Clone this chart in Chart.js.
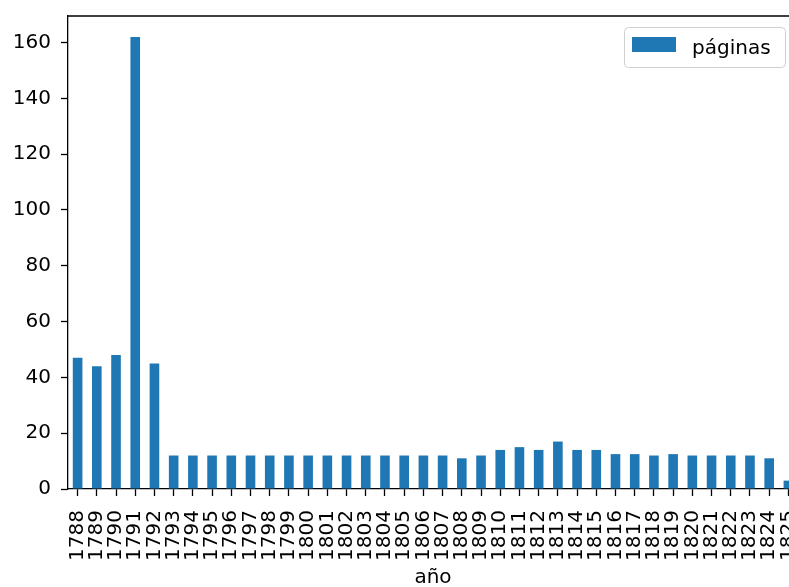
<!DOCTYPE html>
<html>
<head>
<meta charset="utf-8">
<script src="https://cdn.jsdelivr.net/npm/chart.js@4/dist/chart.umd.min.js"></script>
<style>
    html, body { margin: 0; padding: 0; background: #ffffff; overflow: hidden; }
    #chart-container { position: absolute; left: 0; top: 0; width: 810px; height: 600px; }
</style>
</head>
<body>
<div id="chart-container"><canvas id="chart-paginas" width="810" height="600"></canvas></div>
<script>
// -------------------------------------------------------------------------------------------
const years = [
    '1788', '1789', '1790', '1791', '1792', '1793', '1794', '1795', '1796', '1797',
    '1798', '1799', '1800', '1801', '1802', '1803', '1804', '1805', '1806', '1807',
    '1808', '1809', '1810', '1811', '1812', '1813', '1814', '1815', '1816', '1817',
    '1818', '1819', '1820', '1821', '1822', '1823', '1824', '1825'
];
const paginas = [
    47, 44, 48, 162, 45, 12, 12, 12, 12, 12,
    12, 12, 12, 12, 12, 12, 12, 12, 12, 12,
    11, 12, 14, 15, 14, 17, 14, 14, 12.5, 12.5,
    12, 12.5, 12, 12, 12, 12, 11, 3
];
const yTicks = [0, 20, 40, 60, 80, 100, 120, 140, 160];
const yMax = 169.5;
const seriesLabel = 'páginas';
const xTitle = 'año';
const barColor = '#1f77b4';
const fontFamily = '"DejaVu Sans", sans-serif';
// -------------------------------------------------------------------------------------------
const framePlugin = {
    id: 'frame',
    afterDraw(chart) {
        const ctx = chart.ctx;
        const area = chart.chartArea;

        // top spine
        ctx.save();
        ctx.strokeStyle = '#000000';
        ctx.lineWidth = 1.3;
        ctx.beginPath();
        ctx.moveTo(area.left, area.top);
        ctx.lineTo(area.right, area.top);
        ctx.moveTo(area.right, area.top);
        ctx.lineTo(area.right, area.bottom);
        ctx.stroke();

        // legend box, upper right inside the axes
        const boxW = 161, boxH = 40;
        const boxX = area.right - 13 - boxW;
        const boxY = area.top + 11;
        ctx.beginPath();
        ctx.roundRect(boxX + 0.5, boxY + 0.5, boxW, boxH, 4);
        ctx.fillStyle = 'rgba(255,255,255,0.8)';
        ctx.fill();
        ctx.strokeStyle = '#d0d0d0';
        ctx.lineWidth = 1;
        ctx.stroke();

        ctx.fillStyle = barColor;
        ctx.fillRect(boxX + 8, boxY + 10, 44, 15);

        ctx.fillStyle = '#000000';
        ctx.font = '20px ' + fontFamily;
        ctx.textAlign = 'left';
        ctx.textBaseline = 'alphabetic';
        ctx.fillText(seriesLabel, boxX + 68, boxY + 26.5);
        ctx.restore();
    }
};
// -------------------------------------------------------------------------------------------
function drawBarChart()
{
    const data = {
        labels: years,
        datasets: [{
            label: seriesLabel,
            data: paginas,
            backgroundColor: barColor,
            borderWidth: 0,
            barPercentage: 0.5,
            categoryPercentage: 1.0
        }]
    };

    const options = {
        responsive: false,
        animation: false,
        devicePixelRatio: 1,
        layout: {
            padding: { top: 16, right: 12, bottom: 0, left: 0 }
        },
        plugins: {
            legend: { display: false },
            tooltip: { enabled: false }
        },
        scales: {
            x: {
                offset: true,
                grid: {
                    display: true,
                    drawOnChartArea: false,
                    drawTicks: true,
                    tickLength: 7,
                    tickColor: '#000000',
                    tickWidth: 1.3,
                    offset: false
                },
                border: { display: true, color: '#000000', width: 1.3 },
                ticks: {
                    autoSkip: false,
                    minRotation: 90,
                    maxRotation: 90,
                    padding: 14,
                    color: '#000000',
                    font: { family: fontFamily, size: 20 }
                },
                title: {
                    display: true,
                    text: xTitle,
                    color: '#000000',
                    font: { family: fontFamily, size: 20 },
                    padding: { top: 0, bottom: 10 }
                },
                afterFit: (scale) => {
                    scale.height = 111;
                    scale.paddingLeft = 0;
                    scale.paddingRight = 0;
                }
            },
            y: {
                min: 0,
                max: yMax,
                grid: {
                    display: true,
                    drawOnChartArea: false,
                    drawTicks: true,
                    tickLength: 7,
                    tickColor: '#000000',
                    tickWidth: 1.3
                },
                border: { display: true, color: '#000000', width: 1.3 },
                ticks: {
                    padding: 10,
                    color: '#000000',
                    font: { family: fontFamily, size: 20 }
                },
                afterBuildTicks: (scale) => {
                    scale.ticks = yTicks.map((v) => ({ value: v }));
                },
                afterFit: (scale) => {
                    scale.width = 68;
                    scale.paddingTop = 0;
                    scale.paddingBottom = 0;
                }
            }
        }
    };

    new Chart('chart-paginas', {
        type: 'bar',
        plugins: [framePlugin],
        data: data,
        options: options
    });
}
// -------------------------------------------------------------------------------------------
drawBarChart();
</script>
</body>
</html>
